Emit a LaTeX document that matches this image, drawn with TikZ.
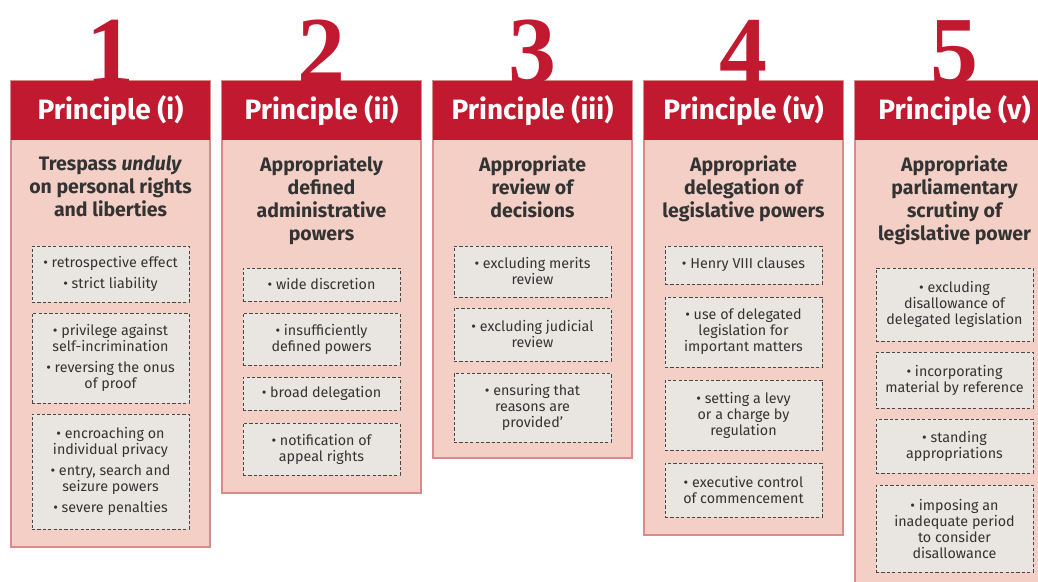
\documentclass[tikz,border=0pt]{standalone}
\usepackage{fontspec}
\setmainfont{Fira Sans}
\newfontfamily\numfont{Liberation Serif}
\usepackage{tikz}
\usepackage{xcolor}

\definecolor{crimson}{HTML}{C1192F}
\definecolor{blush}{HTML}{F3CFC6}
\definecolor{blushline}{HTML}{D98A8C}
\definecolor{stone}{HTML}{E9E6E2}
\definecolor{ink}{HTML}{333333}

\begin{document}
\begin{tikzpicture}[x=1pt,y=-1pt,
    body/.style={fill=blush,draw=blushline,line width=1.2pt},
    header/.style={fill=crimson,text=white,minimum width=199,minimum height=59,inner sep=0,
        font=\bfseries\fontsize{28}{30}\selectfont},
    numeral/.style={text=crimson,anchor=base,inner sep=0,font=\numfont\bfseries\fontsize{96}{96}\selectfont},
    title/.style={text=ink,anchor=north,align=center,inner sep=0,font=\bfseries\fontsize{19.5}{23}\selectfont},
    item/.style={fill=stone,draw=ink!90,dash pattern=on 3.2pt off 2.2pt,line width=1pt,
        minimum width=157,align=center,inner sep=1pt,text=ink,font=\fontsize{14.3}{16}\selectfont}]
    \useasboundingbox (0,0) rectangle (1038,581);
    \clip (0,0) rectangle (1038,581);
    \fill[white] (0,0) rectangle (1038,581);

    % columns: panel, red head and the big numeral
    \foreach \k/\num/\rom/\bot in {0/1/i/547,1/2/ii/493,2/3/iii/458,3/4/iv/535,4/5/v/600}{
        \draw[body] (11+211*\k,81) rectangle (210+211*\k,\bot);
        \node[header] (h\num) at (110.5+211*\k,110.5) {Principle (\rom)};
        \node[numeral] (n\num) at (110.5+211*\k,83) {\num};
    }

    \begin{scope}
        \node[title] (t1) at (110.5,155) {Trespass \textit{unduly}\\on personal rights\\and liberties};
        \node[item,minimum height=56] (i1a) at (110.5,274)
            {\textbullet\ retrospective effect\\[5pt]\textbullet\ strict liability};
        \node[item,minimum height=90] (i1b) at (110.5,358)
            {\textbullet\ privilege against\\self-incrimination\\[5pt]\textbullet\ reversing the onus\\of proof};
        \node[item,minimum height=115] (i1c) at (110.5,471.5)
            {\textbullet\ encroaching on\\individual privacy\\[5pt]\textbullet\ entry, search and\\seizure powers\\[5pt]\textbullet\ severe penalties};
    \end{scope}

    \begin{scope}[xshift=211pt]
        \node[title] (t2) at (110.5,155) {Appropriately\\defined\\administrative\\powers};
        \node[item,minimum height=33] (i2a) at (110.5,284.5) {\textbullet\ wide discretion};
        \node[item,minimum height=52] (i2b) at (110.5,339) {\textbullet\ insufficiently\\defined powers};
        \node[item,minimum height=33] (i2c) at (110.5,393.5) {\textbullet\ broad delegation};
        \node[item,minimum height=52] (i2d) at (110.5,449) {\textbullet\ notification of\\appeal rights};
    \end{scope}

    \begin{scope}[xshift=422pt]
        \node[title] (t3) at (110.5,155) {Appropriate\\review of\\decisions};
        \node[item,minimum height=51] (i3a) at (110.5,271.5) {\textbullet\ excluding merits\\review};
        \node[item,minimum height=53] (i3b) at (110.5,334.5) {\textbullet\ excluding judicial\\review};
        \node[item,minimum height=69] (i3c) at (110.5,407.5) {\textbullet\ ensuring that\\reasons are\\provided'};
    \end{scope}

    \begin{scope}[xshift=633pt]
        \node[title] (t4) at (110.5,155) {Appropriate\\delegation of\\legislative powers};
        \node[item,minimum height=38] (i4a) at (110.5,265) {\textbullet\ Henry VIII clauses};
        \node[item,minimum height=70] (i4b) at (110.5,332) {\textbullet\ use of delegated\\legislation for\\important matters};
        \node[item,minimum height=70] (i4c) at (110.5,415) {\textbullet\ setting a levy\\or a charge by\\regulation};
        \node[item,minimum height=54] (i4d) at (110.5,490) {\textbullet\ executive control\\of commencement};
    \end{scope}

    \begin{scope}[xshift=844pt]
        \node[title] (t5) at (110.5,155) {Appropriate\\parliamentary\\scrutiny of\\legislative power};
        \node[item,minimum height=73] (i5a) at (110.5,304.5) {\textbullet\ excluding\\disallowance of\\delegated legislation};
        \node[item,minimum height=56] (i5b) at (110.5,380) {\textbullet\ incorporating\\material by reference};
        \node[item,minimum height=54] (i5c) at (110.5,446) {\textbullet\ standing\\appropriations};
        \node[item,minimum height=87] (i5d) at (110.5,528.5) {\textbullet\ imposing an\\inadequate period\\to consider\\disallowance};
    \end{scope}
\end{tikzpicture}
\end{document}
